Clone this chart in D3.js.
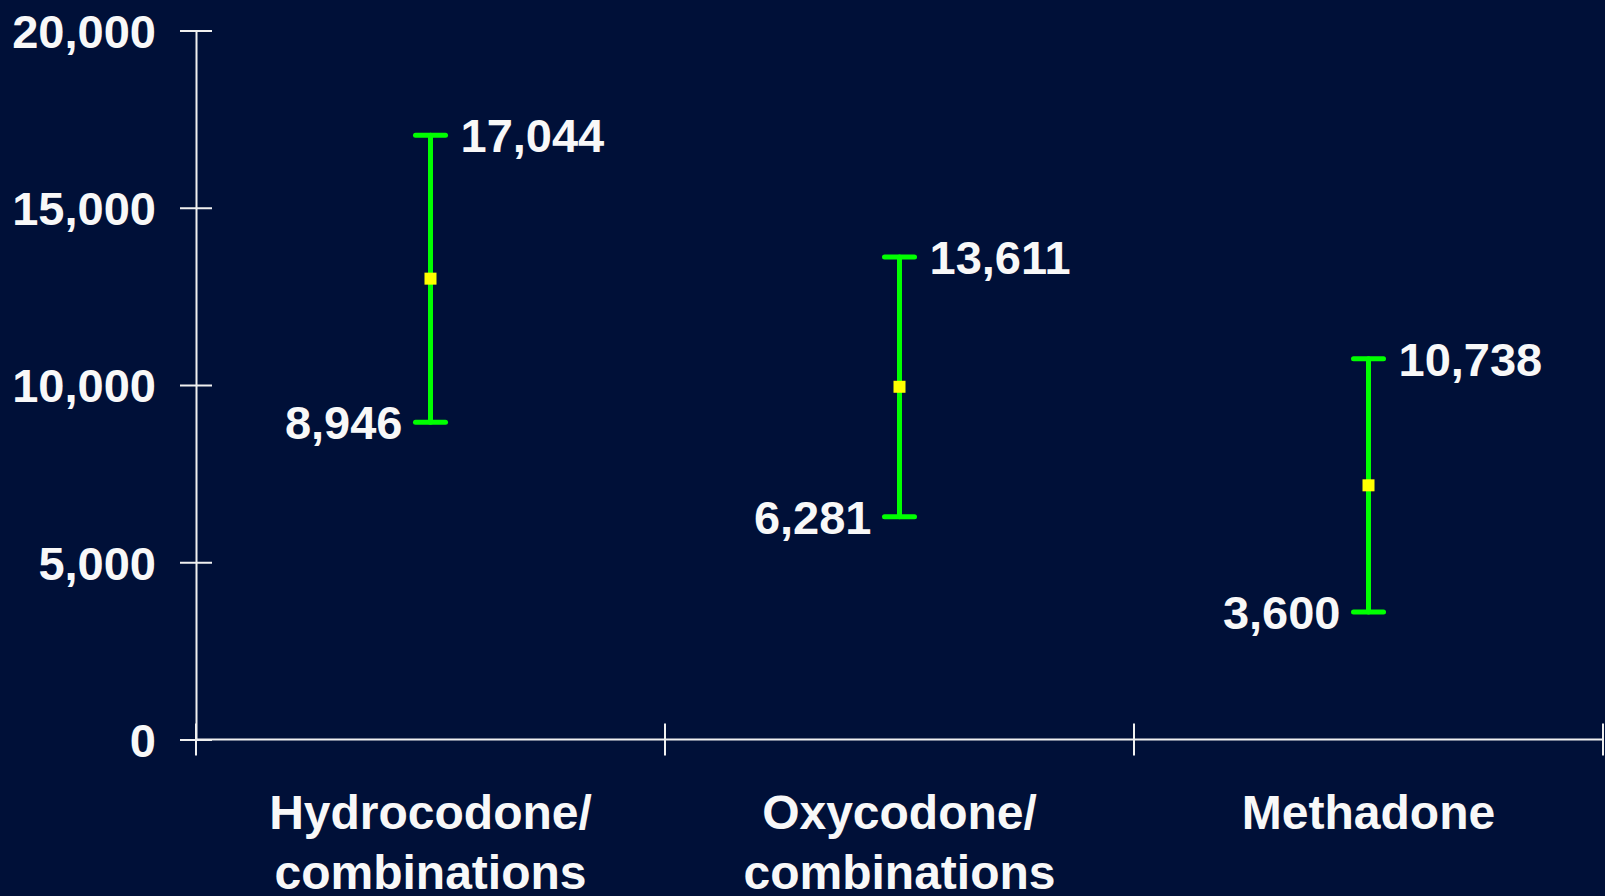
<!DOCTYPE html>
<html>
<head>
<meta charset="utf-8">
<script src="https://cdn.jsdelivr.net/npm/d3@7"></script>
<style>
  html, body { margin: 0; padding: 0; background: #001038; }
  svg { display: block; font-family: "Liberation Sans", Arial, sans-serif; font-weight: bold; }
</style>
</head>
<body>
<svg id="chart" width="1605" height="896"></svg>
<script>
// Chart data
const categories = ["Hydrocodone/\ncombinations", "Oxycodone/\ncombinations", "Methadone"];
const lowValues = [8946, 6281, 3600];
const highValues = [17044, 13611, 10738];
const pointValues = [13000, 9950, 7170];
const yTicks = [0, 5000, 10000, 15000, 20000];

const width = 1605;
const height = 896;
const margin = { top: 30.5, right: 2, bottom: 156.5, left: 196 };

const svg = d3.select("#chart");

const x = d3
  .scaleBand()
  .domain(categories)
  .range([margin.left, width - margin.right]);

const y = d3
  .scaleLinear()
  .domain([0, 20000])
  .range([height - margin.bottom, margin.top]);

const fmt = d3.format(",");

// Y axis (ticks cross the axis line)
const yAxis = svg
  .append("g")
  .attr("transform", `translate(${margin.left},0)`)
  .call(d3.axisLeft(y).tickValues(yTicks).tickFormat(fmt).tickSize(16).tickPadding(24));

yAxis.select(".domain").attr("stroke", "#f0f0f0").attr("stroke-width", 2);
yAxis.selectAll(".tick line").attr("x1", -16).attr("x2", 16).attr("stroke", "#f0f0f0").attr("stroke-width", 2);
yAxis
  .selectAll(".tick text")
  .attr("fill", "#f8f8f8")
  .attr("font-size", 47)
  .attr("font-family", "'Liberation Sans', Arial, sans-serif")
  .attr("font-weight", "bold")
  .attr("dy", "0.36em");

// X axis line and category separators
const y0 = y(0);
svg
  .append("line")
  .attr("x1", margin.left)
  .attr("x2", width - margin.right)
  .attr("y1", y0)
  .attr("y2", y0)
  .attr("stroke", "#f0f0f0")
  .attr("stroke-width", 2);

const separators = categories.map((c) => x(c)).concat([x.range()[1]]);
svg
  .selectAll(".sep")
  .data(separators)
  .join("line")
  .attr("class", "sep")
  .attr("x1", (d) => d)
  .attr("x2", (d) => d)
  .attr("y1", y0 - 16)
  .attr("y2", y0 + 16)
  .attr("stroke", "#f0f0f0")
  .attr("stroke-width", 2);

// Category labels
const catLabels = svg
  .selectAll(".cat")
  .data(categories)
  .join("text")
  .attr("class", "cat")
  .attr("text-anchor", "middle")
  .attr("fill", "#f8f8f8")
  .attr("font-size", 48)
  .attr("x", (d) => x(d) + x.bandwidth() / 2)
  .attr("y", 829);

catLabels
  .selectAll("tspan")
  .data((d) => d.split("\n").map((t) => ({ t, c: d })))
  .join("tspan")
  .attr("x", (d) => x(d.c) + x.bandwidth() / 2)
  .attr("dy", (d, i) => (i === 0 ? 0 : 60))
  .text((d) => d.t);

// Error bars
const rows = categories.map((c, i) => ({
  c,
  lo: lowValues[i],
  hi: highValues[i],
  pt: pointValues[i],
}));
const cx = (d) => x(d.c) + x.bandwidth() / 2;
const capHalf = 15;
const green = "#00ff00";

const bars = svg.selectAll(".bar").data(rows).join("g").attr("class", "bar");

bars
  .append("line")
  .attr("x1", cx)
  .attr("x2", cx)
  .attr("y1", (d) => y(d.lo))
  .attr("y2", (d) => y(d.hi))
  .attr("stroke", green)
  .attr("stroke-width", 5)
  .attr("stroke-linecap", "round");

bars
  .append("line")
  .attr("x1", (d) => cx(d) - capHalf)
  .attr("x2", (d) => cx(d) + capHalf)
  .attr("y1", (d) => y(d.hi))
  .attr("y2", (d) => y(d.hi))
  .attr("stroke", green)
  .attr("stroke-width", 5)
  .attr("stroke-linecap", "round");

bars
  .append("line")
  .attr("x1", (d) => cx(d) - capHalf)
  .attr("x2", (d) => cx(d) + capHalf)
  .attr("y1", (d) => y(d.lo))
  .attr("y2", (d) => y(d.lo))
  .attr("stroke", green)
  .attr("stroke-width", 5)
  .attr("stroke-linecap", "round");

bars
  .append("rect")
  .attr("x", (d) => cx(d) - 6)
  .attr("y", (d) => y(d.pt) - 6)
  .attr("width", 12)
  .attr("height", 12)
  .attr("fill", "#ffff00");

// Value labels
bars
  .append("text")
  .attr("x", (d) => cx(d) + 30)
  .attr("y", (d) => y(d.hi))
  .attr("dy", "0.36em")
  .attr("fill", "#f8f8f8")
  .attr("font-size", 47)
  .text((d) => fmt(d.hi));

bars
  .append("text")
  .attr("x", (d) => cx(d) - 28)
  .attr("y", (d) => y(d.lo))
  .attr("dy", "0.36em")
  .attr("text-anchor", "end")
  .attr("fill", "#f8f8f8")
  .attr("font-size", 47)
  .text((d) => fmt(d.lo));
</script>
</body>
</html>
